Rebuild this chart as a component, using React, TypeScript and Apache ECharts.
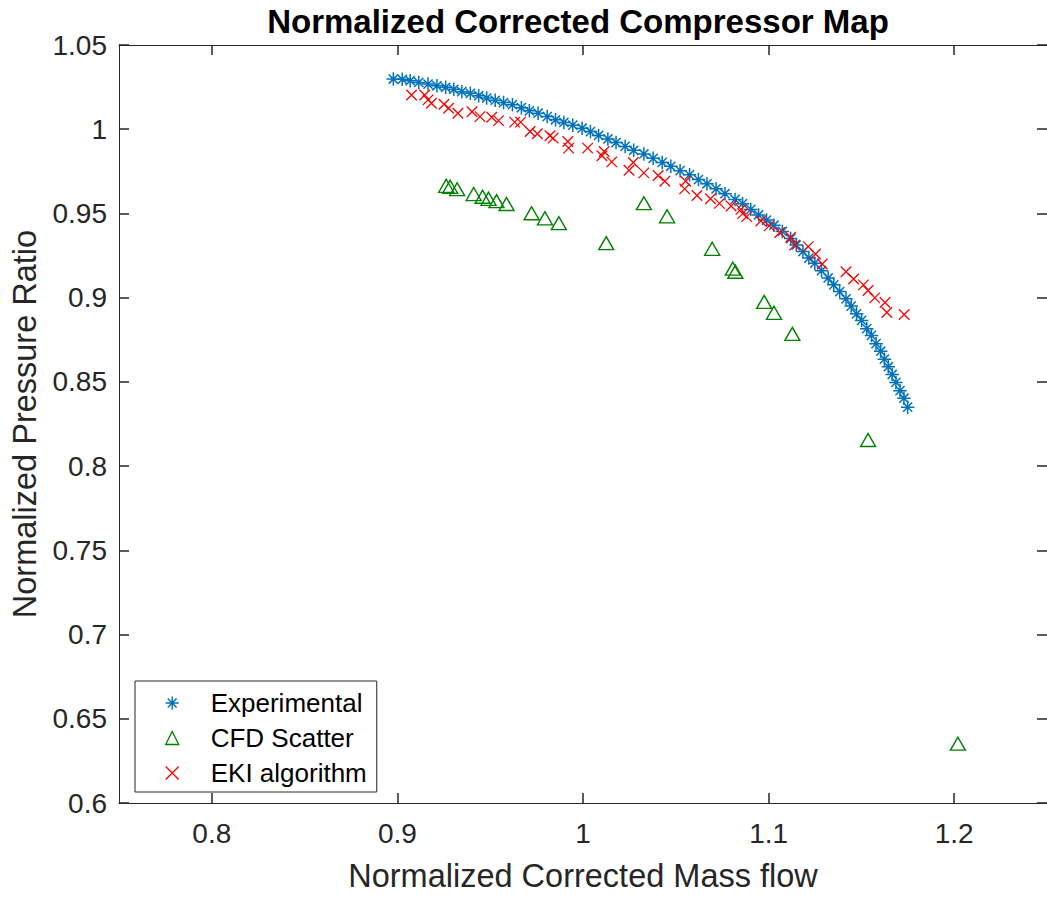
import React, { useEffect, useRef } from "react";
import * as echarts from "echarts";

const FONT = '"Liberation Sans", Arial, Helvetica, sans-serif';
const AXIS_COLOR = "#262626";

const xTicks = [0.8, 0.9, 1.0, 1.1, 1.2];
const yTicks = [0.6, 0.65, 0.7, 0.75, 0.8, 0.85, 0.9, 0.95, 1.0, 1.05];

// Experimental
const expX = [
  0.8978, 0.9026, 0.9069, 0.9115, 0.9165, 0.9213, 0.926, 0.9304, 0.9347, 0.9393,
  0.9438, 0.9481, 0.9527, 0.9572, 0.962, 0.9668, 0.9711, 0.9758, 0.9807, 0.9852,
  0.9897, 0.9945, 0.9995, 1.004, 1.0084, 1.0134, 1.0178, 1.0227, 1.0273, 1.0328,
  1.0378, 1.0427, 1.0473, 1.0523, 1.0574, 1.0622, 1.0668, 1.0717, 1.0765, 1.0819,
  1.086, 1.0904, 1.0946, 1.0989, 1.1029, 1.1074, 1.1119, 1.1149, 1.1185, 1.1217,
  1.1249, 1.1285, 1.1321, 1.1351, 1.1383, 1.1417, 1.1445, 1.1474, 1.1501, 1.1529,
  1.1554, 1.1579, 1.1604, 1.1624, 1.1645, 1.1666, 1.1686, 1.1708, 1.1729, 1.1749,
];
const expY = [
  1.0298, 1.0296, 1.0288, 1.0278, 1.0268, 1.0258, 1.0249, 1.0237, 1.0223, 1.0213,
  1.0199, 1.0185, 1.0172, 1.0158, 1.0146, 1.0128, 1.0109, 1.0095, 1.0075, 1.0056,
  1.004, 1.0024, 1.0006, 0.9986, 0.9963, 0.9942, 0.9921, 0.9898, 0.9875, 0.9853,
  0.9827, 0.9803, 0.978, 0.9754, 0.9729, 0.9701, 0.9676, 0.9646, 0.9617, 0.9583,
  0.9558, 0.9524, 0.9491, 0.9461, 0.943, 0.9393, 0.9351, 0.9312, 0.9274, 0.9235,
  0.9205, 0.916, 0.9117, 0.9076, 0.9036, 0.8993, 0.895, 0.8904, 0.8865, 0.8816,
  0.8776, 0.8727, 0.8682, 0.8635, 0.859, 0.8544, 0.8497, 0.8448, 0.8403, 0.835,
];

// CFD Scatter
const cfdX = [
  0.9263, 0.9284, 0.9322, 0.9411, 0.9459, 0.9491, 0.9534, 0.9588, 0.9723, 0.9795,
  0.987, 1.0125, 1.0328, 1.0453, 1.0696, 1.0807, 1.0821, 1.0976, 1.1029, 1.1128,
  1.1536, 1.202,
];
const cfdY = [
  0.9664, 0.9658, 0.9644, 0.9615, 0.9599, 0.9587, 0.9573, 0.9556, 0.9501, 0.9471,
  0.9442, 0.9324, 0.9561, 0.9483, 0.929, 0.9172, 0.9154, 0.8975, 0.891, 0.8785,
  0.8155, 0.6352,
];

// EKI algorithm
const ekiX = [
  0.9076, 0.9147, 0.9165, 0.9183, 0.9251, 0.9276, 0.9326, 0.9402, 0.9445, 0.9508,
  0.9545, 0.9632, 0.9664, 0.9715, 0.9754, 0.9822, 0.9839, 0.9918, 0.9923, 1.0025,
  1.0102, 1.0114, 1.0155, 1.0248, 1.0271, 1.0328, 1.0405, 1.0441, 1.0553, 1.0548,
  1.0614, 1.0687, 1.0735, 1.0798, 1.0851, 1.086, 1.0882, 1.0958, 1.1003, 1.106,
  1.1119, 1.114, 1.1214, 1.1253, 1.1289, 1.1417, 1.1458, 1.1511, 1.1536, 1.1572,
  1.1627, 1.1637, 1.1731,
];
const ekiY = [
  1.0203, 1.0203, 1.0174, 1.0154, 1.0148, 1.0125, 1.0095, 1.0104, 1.0075, 1.0071,
  1.0051, 1.0042, 1.0042, 0.9986, 0.9973, 0.9961, 0.9947, 0.9927, 0.9888, 0.9888,
  0.9843, 0.9868, 0.9806, 0.9756, 0.9802, 0.9741, 0.9725, 0.9691, 0.9691, 0.9646,
  0.9607, 0.9587, 0.956, 0.9544, 0.9524, 0.9499, 0.9481, 0.9455, 0.9426, 0.9387,
  0.9359, 0.9312, 0.9303, 0.9259, 0.92, 0.9154, 0.9111, 0.9076, 0.9043, 0.8999,
  0.8971, 0.8912, 0.89,
];

const ASTERISK = "path://M5,0L5,10M0,5L10,5M1.6,1.6L8.4,8.4M1.6,8.4L8.4,1.6";
const CROSS = "path://M0,0L10,10M0,10L10,0";

const BLUE = "#0072BD";
const GREEN = "#008000";
const RED = "#FF0000";

const pairs = (xs: number[], ys: number[]) => xs.map((x, i) => [x, ys[i]]);

export default function App() {
  const ref = useRef<HTMLDivElement>(null);

  useEffect(() => {
    if (!ref.current) return;
    const chart = echarts.init(ref.current, undefined, { renderer: "svg" });

    const baseX = {
      type: "value",
      min: 0.75,
      max: 1.25,
      interval: 0.05,
      axisLine: { show: true, onZero: false, lineStyle: { color: AXIS_COLOR, width: 1 } },
      axisTick: { show: true, inside: true, length: 10, customValues: xTicks, lineStyle: { color: AXIS_COLOR, width: 1.5 } },
      splitLine: { show: false },
    };
    const baseY = {
      type: "value",
      min: 0.6,
      max: 1.05,
      interval: 0.05,
      axisLine: { show: true, onZero: false, lineStyle: { color: AXIS_COLOR, width: 1 } },
      axisTick: { show: true, inside: true, length: 10, customValues: yTicks, lineStyle: { color: AXIS_COLOR, width: 1.5 } },
      splitLine: { show: false },
    };

    chart.setOption({
      animation: false,
      backgroundColor: "#ffffff",
      title: {
        text: "Normalized Corrected Compressor Map",
        left: 573,
        top: 0,
        textAlign: "center",
        textStyle: { fontFamily: FONT, fontSize: 33, fontWeight: "bold", color: "#000000" },
      },
      grid: { left: 119, top: 45, width: 934, height: 762 },
      legend: {
        orient: "vertical",
        left: 135,
        top: 681,
        padding: [9, 10, 6, 30],
        itemWidth: 13,
        itemHeight: 13,
        itemGap: 9,
        backgroundColor: "#ffffff",
        borderColor: AXIS_COLOR,
        borderWidth: 1,
        borderRadius: 0,
        selectedMode: false,
        textStyle: { fontFamily: FONT, fontSize: 26, color: "#000000", lineHeight: 26, padding: [0, 0, 0, 27] },
        data: [
          { name: "Experimental", icon: ASTERISK, itemStyle: { color: "transparent", borderColor: BLUE, borderWidth: 1.4 } },
          { name: "CFD Scatter", icon: "triangle", itemStyle: { color: "transparent", borderColor: GREEN, borderWidth: 1.3 } },
          { name: "EKI algorithm", icon: CROSS, itemStyle: { color: "transparent", borderColor: RED, borderWidth: 1.3 } },
        ],
      },
      xAxis: [
        {
          ...baseX,
          position: "bottom",
          name: "Normalized Corrected Mass flow",
          nameLocation: "middle",
          nameGap: 56,
          nameTextStyle: { fontFamily: FONT, fontSize: 32.5, color: AXIS_COLOR },
          axisLabel: { show: true, margin: 16, customValues: xTicks, fontFamily: FONT, fontSize: 28, color: AXIS_COLOR },
        },
        {
          ...baseX,
          position: "top",
          axisLabel: { show: false },
        },
      ],
      yAxis: [
        {
          ...baseY,
          position: "left",
          name: "Normalized Pressure Ratio",
          nameLocation: "middle",
          nameGap: 78,
          nameTextStyle: { fontFamily: FONT, fontSize: 32.5, color: AXIS_COLOR },
          axisLabel: { show: true, margin: 12, customValues: yTicks, fontFamily: FONT, fontSize: 28, color: AXIS_COLOR },
        },
        {
          ...baseY,
          position: "right",
          axisLabel: { show: false },
        },
      ],
      series: [
        {
          name: "Experimental",
          type: "scatter",
          xAxisIndex: 0,
          yAxisIndex: 0,
          symbol: ASTERISK,
          symbolSize: 13.5,
          symbolKeepAspect: true,
          itemStyle: { color: "transparent", borderColor: BLUE, borderWidth: 1.5, opacity: 1 },
          data: pairs(expX, expY),
        },
        {
          name: "CFD Scatter",
          type: "scatter",
          xAxisIndex: 0,
          yAxisIndex: 0,
          symbol: "triangle",
          symbolSize: [15, 13],
          itemStyle: { color: "transparent", borderColor: GREEN, borderWidth: 1.4, opacity: 1 },
          data: pairs(cfdX, cfdY),
        },
        {
          name: "EKI algorithm",
          type: "scatter",
          xAxisIndex: 0,
          yAxisIndex: 0,
          symbol: CROSS,
          symbolSize: 10.5,
          symbolKeepAspect: true,
          itemStyle: { color: "transparent", borderColor: RED, borderWidth: 1.3, opacity: 1 },
          data: pairs(ekiX, ekiY),
        },
      ],
    });

    return () => chart.dispose();
  }, []);

  return (
    <div
      ref={ref}
      style={{ position: "absolute", left: 0, top: 0, width: 1047, height: 897, overflow: "hidden", background: "#fff" }}
    />
  );
}
